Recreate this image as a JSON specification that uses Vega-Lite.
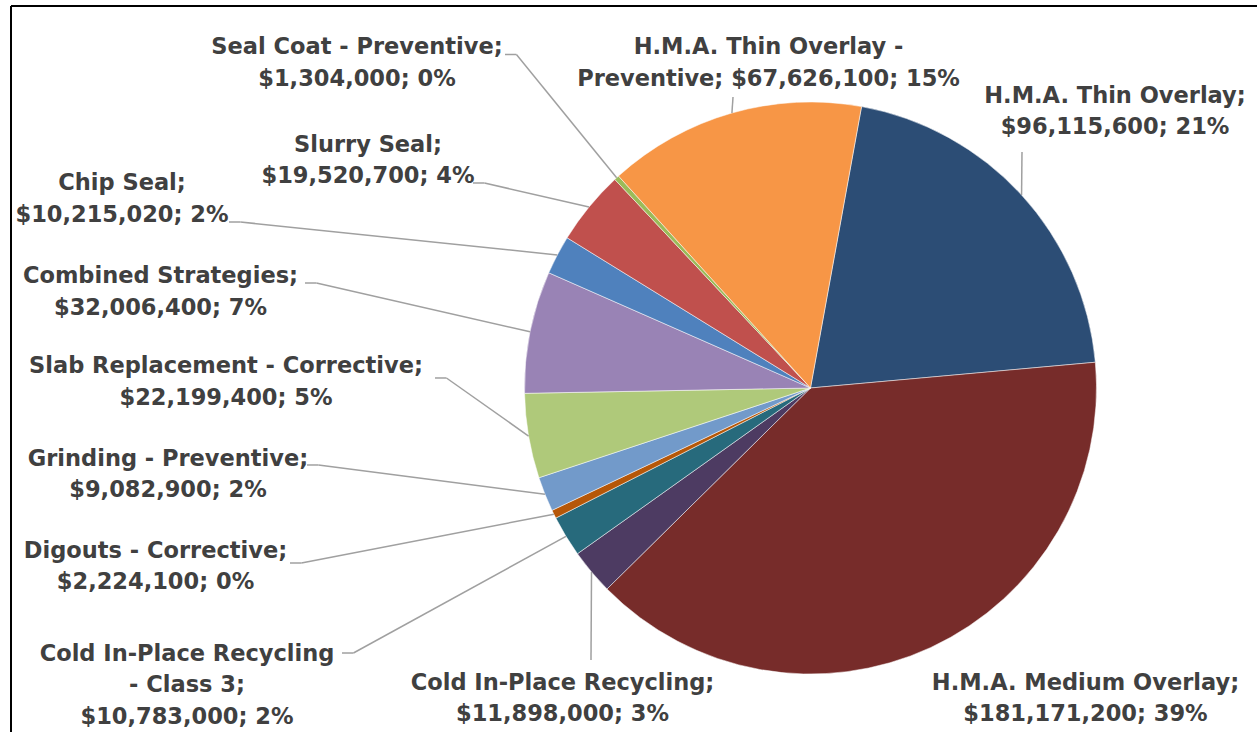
{
  "$schema": "https://vega.github.io/schema/vega-lite/v6.json",
  "width": 1246,
  "height": 726,
  "autosize": {"type": "none"},
  "padding": {"left": 11, "top": 6, "right": 0, "bottom": 0},
  "background": "#ffffff",
  "config": {"view": {"stroke": null}},
  "params": [{"name": "startAngle", "value": 0.1795}],
  "datasets": {
    "costs": [
      {"slice": 1, "category": "H.M.A. Thin Overlay", "amount": 96115600},
      {"slice": 2, "category": "H.M.A. Medium Overlay", "amount": 181171200},
      {"slice": 3, "category": "Cold In-Place Recycling", "amount": 11898000},
      {"slice": 4, "category": "Cold In-Place Recycling - Class 3", "amount": 10783000},
      {"slice": 5, "category": "Digouts - Corrective", "amount": 2224100},
      {"slice": 6, "category": "Grinding - Preventive", "amount": 9082900},
      {"slice": 7, "category": "Slab Replacement - Corrective", "amount": 22199400},
      {"slice": 8, "category": "Combined Strategies", "amount": 32006400},
      {"slice": 9, "category": "Chip Seal", "amount": 10215020},
      {"slice": 10, "category": "Slurry Seal", "amount": 19520700},
      {"slice": 11, "category": "Seal Coat - Preventive", "amount": 1304000},
      {"slice": 12, "category": "H.M.A. Thin Overlay - Preventive", "amount": 67626100}
    ],
    "callouts": [
      {"category": "H.M.A. Thin Overlay", "template": "H.M.A. Thin Overlay;|${amount}; {share}", "labelX": 106.47, "labelY": 99.65, "lineX": 73.95, "lineY": 82.52},
      {"category": "H.M.A. Medium Overlay", "template": "H.M.A. Medium Overlay;|${amount}; {share}", "labelX": 96.15, "labelY": -105.59},
      {"category": "Cold In-Place Recycling", "template": "Cold In-Place Recycling;|${amount}; {share}", "labelX": -86.71, "labelY": -105.59, "lineX": -76.75, "lineY": -95.1},
      {"category": "Cold In-Place Recycling - Class 3", "template": "Cold In-Place Recycling|- Class 3;|${amount}; {share}", "labelX": -218.01, "labelY": -95.45, "lineX": -163.81, "lineY": -92.66},
      {"category": "Digouts - Corrective", "template": "Digouts - Corrective;|${amount}; {share}", "labelX": -229.02, "labelY": -59.44, "lineX": -181.99, "lineY": -61.19},
      {"category": "Grinding - Preventive", "template": "Grinding - Preventive;|${amount}; {share}", "labelX": -224.65, "labelY": -27.27, "lineX": -176.05, "lineY": -26.92},
      {"category": "Slab Replacement - Corrective", "template": "Slab Replacement - Corrective;|${amount}; {share}", "labelX": -204.37, "labelY": 5.24, "lineX": -131.29, "lineY": 3.5},
      {"category": "Combined Strategies", "template": "Combined Strategies;|${amount}; {share}", "labelX": -227.27, "labelY": 36.71, "lineX": -176.75, "lineY": 36.71},
      {"category": "Chip Seal", "template": "Chip Seal;|${amount}; {share}", "labelX": -240.73, "labelY": 69.23, "lineX": -203.32, "lineY": 58.04},
      {"category": "Slurry Seal", "template": "Slurry Seal;|${amount}; {share}", "labelX": -154.72, "labelY": 82.52, "lineX": -118.01, "lineY": 71.68},
      {"category": "Seal Coat - Preventive", "template": "Seal Coat - Preventive;|${amount}; {share}", "labelX": -158.57, "labelY": 116.61, "lineX": -106.82, "lineY": 116.61},
      {"category": "H.M.A. Thin Overlay - Preventive", "template": "H.M.A. Thin Overlay -|Preventive; ${amount}; {share}", "labelX": -14.69, "labelY": 116.61, "lineX": -27.1, "lineY": 101.75}
    ]
  },
  "data": {"name": "costs"},
  "transform": [
    {"joinaggregate": [{"op": "sum", "field": "amount", "as": "total"}]},
    {"window": [{"op": "sum", "field": "amount", "as": "cumulative"}], "sort": [{"field": "slice", "order": "ascending"}], "frame": [null, 0]},
    {"calculate": "startAngle + 2 * PI * (datum.cumulative - datum.amount / 2) / datum.total", "as": "midAngle"},
    {"calculate": "100 * sin(datum.midAngle)", "as": "edgeX"},
    {"calculate": "100 * cos(datum.midAngle)", "as": "edgeY"},
    {"lookup": "category", "from": {"data": {"name": "callouts"}, "key": "category", "fields": ["template", "labelX", "labelY", "lineX", "lineY"]}},
    {"calculate": "replace(replace(datum.template, '{amount}', format(datum.amount, ',.0f')), '{share}', format(datum.amount / datum.total, '.0%'))", "as": "labelText"},
    {"calculate": "isValid(datum.lineX) && abs(datum.edgeX - datum.lineX) > 20 ? datum.lineX + (datum.edgeX > datum.lineX ? 4 : -4) : datum.lineX", "as": "elbowX"}
  ],
  "layer": [
    {
      "mark": {
        "type": "arc",
        "x": {"expr": "scale('x', 0)"},
        "y": {"expr": "scale('y', 0)"},
        "outerRadius": {"expr": "scale('x', 100) - scale('x', 0)"},
        "stroke": "#ffffff",
        "strokeWidth": 0.5
      },
      "encoding": {
        "theta": {"field": "amount", "type": "quantitative", "stack": true, "scale": {"range": [{"expr": "startAngle"}, {"expr": "startAngle + 2 * PI"}]}},
        "color": {
          "field": "category",
          "type": "nominal",
          "legend": null,
          "scale": {
            "domain": ["H.M.A. Thin Overlay", "H.M.A. Medium Overlay", "Cold In-Place Recycling", "Cold In-Place Recycling - Class 3", "Digouts - Corrective", "Grinding - Preventive", "Slab Replacement - Corrective", "Combined Strategies", "Chip Seal", "Slurry Seal", "Seal Coat - Preventive", "H.M.A. Thin Overlay - Preventive"],
            "range": ["#2c4d75", "#772c2a", "#4d3b62", "#276a7c", "#b65708", "#729aca", "#afc97a", "#9983b5", "#4f81bd", "#c0504d", "#9bbb59", "#f79646"]
          }
        },
        "order": {"field": "slice", "type": "quantitative"}
      }
    },
    {
      "transform": [{"filter": "isValid(datum.lineX)"}],
      "mark": {"type": "rule", "color": "#a0a0a0", "strokeWidth": 1.5},
      "encoding": {
        "x": {"field": "edgeX", "type": "quantitative", "axis": null, "scale": {"domain": [-279.545, 156.119], "nice": false, "zero": false}},
        "y": {"field": "edgeY", "type": "quantitative", "axis": null, "scale": {"domain": [-120.28, 133.566], "nice": false, "zero": false}},
        "x2": {"field": "elbowX"},
        "y2": {"field": "lineY"}
      }
    },
    {
      "transform": [{"filter": "isValid(datum.lineX)"}],
      "mark": {"type": "rule", "color": "#a0a0a0", "strokeWidth": 1.5},
      "encoding": {
        "x": {"field": "elbowX", "type": "quantitative", "axis": null, "scale": {"domain": [-279.545, 156.119], "nice": false, "zero": false}},
        "y": {"field": "lineY", "type": "quantitative", "axis": null, "scale": {"domain": [-120.28, 133.566], "nice": false, "zero": false}},
        "x2": {"field": "lineX"},
        "y2": {"field": "lineY"}
      }
    },
    {
      "mark": {"type": "text", "font": "DejaVu Sans", "fontWeight": "bold", "fontSize": 22.5, "lineHeight": 31.5, "lineBreak": "|", "align": "center", "baseline": "alphabetic", "color": "#404040"},
      "encoding": {
        "x": {"field": "labelX", "type": "quantitative", "axis": null, "scale": {"domain": [-279.545, 156.119], "nice": false, "zero": false}},
        "y": {"field": "labelY", "type": "quantitative", "axis": null, "scale": {"domain": [-120.28, 133.566], "nice": false, "zero": false}},
        "text": {"field": "labelText", "type": "nominal"}
      }
    },
    {
      "data": {"values": [{"edge": "left"}]},
      "mark": {"type": "rule", "color": "#000000", "strokeWidth": 2},
      "encoding": {
        "x": {"datum": -279.545, "type": "quantitative", "axis": null, "scale": {"domain": [-279.545, 156.119], "nice": false, "zero": false}}
      }
    },
    {
      "data": {"values": [{"edge": "top"}]},
      "mark": {"type": "rule", "color": "#000000", "strokeWidth": 2},
      "encoding": {
        "y": {"datum": 133.566, "type": "quantitative", "axis": null, "scale": {"domain": [-120.28, 133.566], "nice": false, "zero": false}}
      }
    }
  ]
}
